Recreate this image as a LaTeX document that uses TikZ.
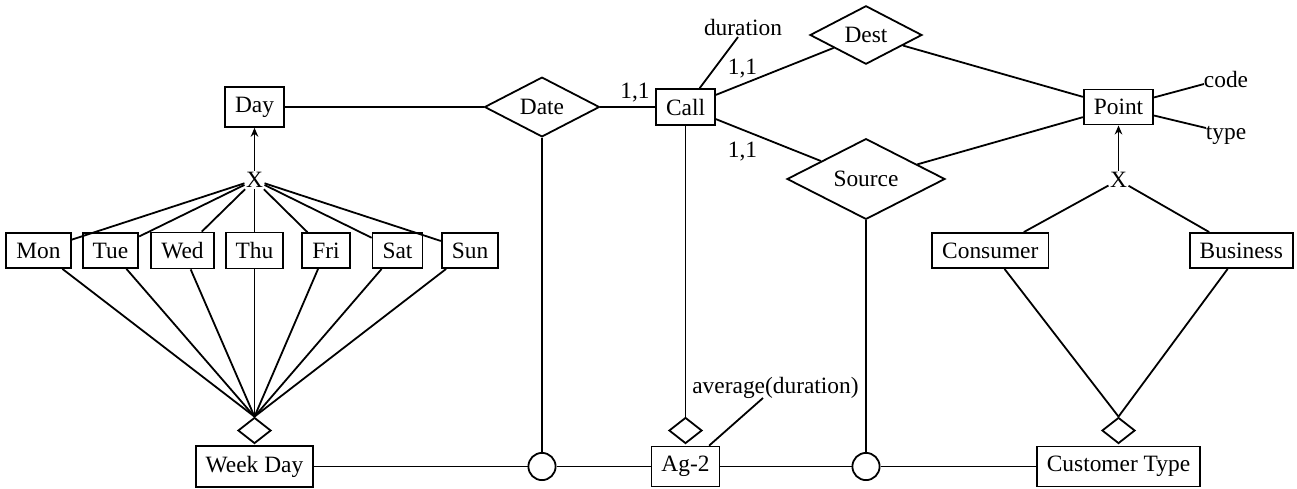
\documentclass[tikz,border=0pt]{standalone}
\usepackage{fontspec}
\setmainfont{Liberation Serif}
\usetikzlibrary{shapes.geometric,arrows.meta}
\begin{document}
\begin{tikzpicture}[x=0.5pt,y=-0.5pt,
  every node/.style={font=\fontsize{11.7}{14}\selectfont},
  entbox/.style={draw,line width=0.9pt,inner xsep=5pt,inner ysep=4.85pt},
  reldia/.style={draw,diamond,line width=0.9pt,inner sep=0pt,minimum height=29pt},
  smalldia/.style={draw,diamond,line width=0.9pt,inner sep=0pt,minimum width=16.5pt,minimum height=13pt},
  aggcirc/.style={draw,circle,line width=0.9pt,inner sep=0pt,minimum size=13.6pt},
  lbl/.style={inner sep=0pt,anchor=base},
  isa/.style={inner sep=0.6pt},
  conn/.style={line width=0.9pt},
  isaarrow/.style={conn,-{Stealth[length=4.5pt,width=3.8pt]}}
]
\useasboundingbox (0,0) rectangle (1297,488);

% top row
\node[entbox] (day) at (254.5,107) {Day};
\node[reldia,minimum width=57.5pt] (date) at (542,107) {Date};
\node[entbox] (call) at (685.5,107) {Call};
\node[reldia,minimum width=56pt] (dest) at (866,35) {Dest};
\node[reldia,minimum width=79pt,minimum height=29.5pt] (source) at (866,179) {Source};
\node[entbox] (point) at (1118.5,107) {Point};

% attribute labels
\node[lbl] (dur) at (743,35) {duration};
\coordinate (durend) at (738,37);
\node[lbl] (code) at (1226,87) {code};
\coordinate (codeend) at (1204,84);
\node[lbl] (type) at (1226,139.5) {type};
\coordinate (typeend) at (1206,128);
\node[lbl] (avg) at (775.5,393) {average(duration)};
\coordinate (avgend) at (763,398);

% cardinalities
\node[lbl] (c11a) at (635,98) {1,1};
\node[lbl] (c11b) at (742.5,74) {1,1};
\node[lbl] (c11c) at (742.5,157) {1,1};

% generalisations
\node[isa] (xl) at (254.5,180) {X};
\node[isa] (xr) at (1118.5,180) {X};

% days
\node[entbox] (mon) at (38.5,250.5) {Mon};
\node[entbox] (tue) at (110.5,250.5) {Tue};
\node[entbox] (wed) at (182.5,250.5) {Wed};
\node[entbox] (thu) at (254.5,250.5) {Thu};
\node[entbox] (fri) at (326,250.5) {Fri};
\node[entbox] (sat) at (397.5,250.5) {Sat};
\node[entbox] (sun) at (470,250.5) {Sun};

\node[entbox] (consumer) at (990.3,250.5) {Consumer};
\node[entbox] (business) at (1241.3,250.5) {Business};

% bottom row
\node[smalldia] (wdd) at (254.5,430.5) {};
\node[smalldia] (agd) at (685.5,430.5) {};
\node[smalldia] (ctd) at (1118.5,430.5) {};
\node[entbox] (weekday) at (254.5,466.5) {Week Day};
\node[aggcirc] (c1) at (542,466.5) {};
\node[entbox] (ag) at (685.5,466.5) {Ag-2};
\node[aggcirc] (c2) at (866,466.5) {};
\node[entbox] (ct) at (1118.5,466.5) {Customer Type};

% connectors top
\draw[conn] (day) -- (date);
\draw[conn] (date) -- (call);
\draw[conn] (call) -- (dest);
\draw[conn] (dest) -- (point);
\draw[conn] (call) -- (source);
\draw[conn] (source) -- (point);
\draw[conn] (call) -- (durend);
\draw[conn] (point) -- (codeend);
\draw[conn] (point) -- (typeend);

% generalisation left
\draw[isaarrow] (xl) -- (day);
\foreach \d in {mon,tue,wed,thu,fri,sat,sun}{
  \draw[conn] (xl) -- (\d);
  \draw[conn] (\d) -- (wdd.north);
}

% generalisation right
\draw[isaarrow] (xr) -- (point);
\draw[conn] (xr) -- (consumer);
\draw[conn] (xr) -- (business);
\draw[conn] (consumer) -- (ctd.north);
\draw[conn] (business) -- (ctd.north);

% verticals
\draw[conn] (date) -- (c1);
\draw[conn] (call) -- (agd);
\draw[conn] (source) -- (c2);

% bottom row
\draw[conn] (weekday.east) -- (c1);
\draw[conn] (c1) -- (ag);
\draw[conn] (ag) -- (c2);
\draw[conn] (c2) -- (ct);
\draw[conn] (ag) -- (avgend);
\end{tikzpicture}
\end{document}
